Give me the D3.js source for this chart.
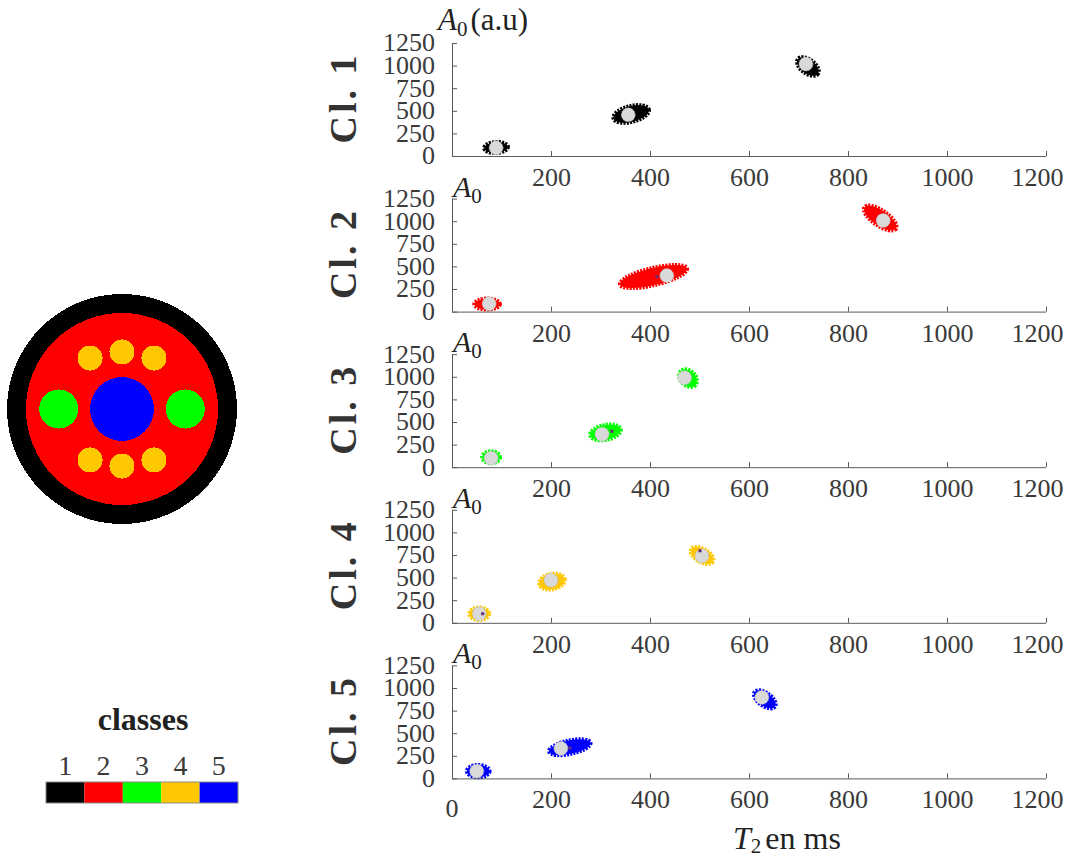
<!DOCTYPE html>
<html><head><meta charset="utf-8">
<script src="https://cdn.jsdelivr.net/npm/d3@7"></script>
<style>
body{margin:0;background:#fff}
svg{display:block}
text{font-family:"Liberation Serif","Times New Roman",serif}
</style>
</head><body>
<svg id="chart" width="1070" height="859"></svg>
<script>
// ---------------- data ----------------
const classNames   = ["1","2","3","4","5"];
const classColors  = ["#000000","#ff0000","#00ff00","#ffc800","#0000ff"];
const panelLabels  = ["Cl. 1","Cl. 2","Cl. 3","Cl. 4","Cl. 5"];
const xTicks       = [200,400,600,800,1000,1200];
const yTicks       = [0,250,500,750,1000,1250];

// cluster clouds (T2 in ms, A0 in a.u.): mean, half-extent, correlation
const blobT2     = [[89,362,719],[71,407,865],[79,310,477],[55,202,505],[53,238,632]];
const blobA0     = [[94,465,990],[83,388,1035],[110,385,985],[100,455,745],[80,345,874]];
const blobT2Half = [[28,40,26],[30,72,37],[22,35,22],[24,30,27],[27,46,26]];
const blobA0Half = [[83,120,125],[83,150,160],[88,110,120],[90,110,116],[90,110,122]];
const blobCorr   = [[0.1,0.4,-0.5],[0,0.65,-0.7],[0,0.3,-0.3],[0,0.2,-0.5],[0,0.5,-0.55]];

// estimated centroids (grey discs)
const centroidT2 = [[89,356,715],[75,434,871],[79,303,470],[55,200,505],[50,220,626]];
const centroidA0 = [[90,455,1018],[88,398,1007],[100,365,990],[100,470,740],[80,332,896]];

// true-value markers (small purple marks)
const markerT2 = [[],[414],[323],[62,501],[238]];
const markerA0 = [[],[387],[398],[100,797],[338]];

// phantom (class map): discs drawn in order, unit = outer radius
const phantomClass = [1,2,5,3,3,4,4,4,4,4,4];
const phantomX     = [0,0,0,-0.55,0.55,-0.278,0,0.278,-0.278,0,0.278];
const phantomY     = [0,0,0,0,0,-0.443,-0.496,-0.443,0.443,0.496,0.443];
const phantomR     = [1,0.835,0.278,0.17,0.17,0.109,0.109,0.109,0.109,0.109,0.109];

// ---------------- drawing ----------------
const svg = d3.select("#chart");
const axisColor = "#5a5a5a", textColor = "#3a3a3a";

const x = d3.scaleLinear().domain([0,1200]).range([452,1046]);
const panelTop0 = 43, panelStep = 155.6, panelH = 113;

classNames.forEach((cn, i) => {
  const top = panelTop0 + i*panelStep, bottom = top + panelH;
  const y = d3.scaleLinear().domain([0,1250]).range([bottom, top]);
  const g = svg.append("g");

  // clouds
  const blobs = blobT2[i].map((t,k)=>({t, a:blobA0[i][k], ht:blobT2Half[i][k], ha:blobA0Half[i][k], r:blobCorr[i][k]}));
  blobs.forEach(b => {
    const cx = x(b.t), cy = y(b.a);
    const sx = Math.max(Math.abs(x(b.ht)-x(0)) - 2, 3);
    const sy = Math.max(Math.abs(y(b.ha)-y(0)) - 2, 3);
    const A = sx*sx, C = sy*sy, B = -b.r*sx*sy;
    const m = (A+C)/2, d = Math.sqrt(((A-C)/2)**2 + B*B);
    const l1 = m + d, l2 = Math.max(m - d, 1);
    const theta = 0.5*Math.atan2(2*B, A-C)*180/Math.PI;
    const tr = `translate(${cx},${cy}) rotate(${theta})`;
    g.append("ellipse").attr("transform", tr)
      .attr("rx", Math.sqrt(l1)).attr("ry", Math.sqrt(l2))
      .attr("fill", classColors[i]).attr("stroke", classColors[i])
      .attr("stroke-width", 4).attr("stroke-dasharray", "2 1.2");
  });

  // centroid discs
  centroidT2[i].forEach((t,k) => {
    g.append("circle").attr("cx", x(t)).attr("cy", y(centroidA0[i][k])).attr("r", 7)
      .attr("fill", "#d9d9d9").attr("stroke", "#b0b0b0")
      .attr("stroke-width", 1).attr("stroke-dasharray", "1 1.5");
  });
  markerT2[i].forEach((t,k) => {
    g.append("rect").attr("x", x(t)-1.5).attr("y", y(markerA0[i][k])-1.5)
      .attr("width", 3).attr("height", 3).attr("fill", "#6a2c6a");
  });

  // axes
  const xa = g.append("g").attr("transform", `translate(0,${bottom})`)
    .call(d3.axisBottom(x).tickValues(xTicks).tickFormat(d3.format("d"))
      .tickSizeInner(-5).tickSizeOuter(0).tickPadding(0));
  xa.select(".domain").attr("d", `M${x(0)},0.5H${x(1200)}`).attr("stroke", axisColor);
  xa.selectAll(".tick line").attr("stroke", axisColor);
  xa.selectAll(".tick text").attr("y", 30).attr("dy", null)
    .attr("font-size", 26).attr("fill", textColor).attr("font-family", '"Liberation Serif",serif');
  // last label is pulled inside the figure
  xa.selectAll(".tick text").filter(d => d === 1200)
    .attr("text-anchor", "end").attr("x", 1063 - x(1200));

  const ya = g.append("g").attr("transform", `translate(${x(0)},0)`)
    .call(d3.axisLeft(y).tickValues(yTicks).tickFormat(d3.format("d"))
      .tickSizeInner(-5).tickSizeOuter(0));
  ya.select(".domain").attr("d", `M0.5,${top}V${bottom}`).attr("stroke", axisColor);
  ya.selectAll(".tick line").attr("stroke", axisColor);
  ya.selectAll(".tick text").attr("x", -17).attr("dy", "0.3em")
    .attr("font-size", 26).attr("fill", textColor).attr("font-family", '"Liberation Serif",serif');

  // row label
  svg.append("text").attr("transform", `translate(343,${(top+bottom)/2}) rotate(-90)`)
    .attr("text-anchor", "middle").attr("dominant-baseline", "central")
    .attr("font-size", 38).attr("font-weight", "bold").attr("fill", "#333")
    .attr("textLength", 88).attr("lengthAdjust", "spacing")
    .text(panelLabels[i]);

  // A0 label
  const lab = svg.append("text").attr("fill", "#222");
  if (i === 0) {
    lab.attr("x", 438).attr("y", 30);
    lab.append("tspan").attr("font-style", "italic").attr("font-size", 31).text("A");
    lab.append("tspan").attr("font-size", 21).attr("dy", 6).text("0");
    lab.append("tspan").attr("font-size", 31).attr("dy", -6).attr("dx", 3).text("(a.u)");
  } else {
    lab.attr("x", 453).attr("y", top - 2);
    lab.append("tspan").attr("font-style", "italic").attr("font-size", 30).text("A");
    lab.append("tspan").attr("font-size", 21).attr("dy", 6).text("0");
  }

  if (i === classNames.length - 1) {
    svg.append("text").attr("x", x(0)).attr("y", bottom + 39).attr("text-anchor", "middle")
      .attr("font-size", 26).attr("fill", textColor).text("0");
    const tt = svg.append("text").attr("x", 733).attr("y", 849).attr("fill", "#222");
    tt.append("tspan").attr("font-style", "italic").attr("font-size", 32).text("T");
    tt.append("tspan").attr("font-size", 21).attr("dy", 4).text("2");
    tt.append("tspan").attr("font-size", 32).attr("dy", -4).attr("dx", 4).text("en ms");
  }
});

// ---------------- phantom image ----------------
const pc = {x:122, y:409, r:115};
const px = d3.scaleLinear().domain([-1,1]).range([pc.x - pc.r, pc.x + pc.r]);
const py = d3.scaleLinear().domain([-1,1]).range([pc.y - pc.r, pc.y + pc.r]);
const pr = d3.scaleLinear().domain([0,1]).range([0, pc.r]);
svg.append("g").attr("shape-rendering", "crispEdges").selectAll("circle")
  .data(phantomClass.map((c,k)=>({c, x:phantomX[k], y:phantomY[k], r:phantomR[k]})))
  .join("circle")
  .attr("cx", d => px(d.x)).attr("cy", d => py(d.y)).attr("r", d => pr(d.r))
  .attr("fill", d => classColors[d.c - 1]);

// ---------------- legend ----------------
const lx = d3.scaleBand().domain(classNames).range([46, 238]).padding(0);
svg.append("text").attr("x", 143).attr("y", 730).attr("text-anchor", "middle")
  .attr("font-size", 32).attr("font-weight", "bold").attr("fill", "#222")
  .text("classes");
const lg = svg.append("g");
lg.selectAll("rect").data(classNames).join("rect")
  .attr("x", d => lx(d)).attr("y", 782).attr("width", lx.bandwidth()).attr("height", 21)
  .attr("fill", (d,k) => classColors[k]);
lg.append("rect").attr("x", 46).attr("y", 782).attr("width", 192).attr("height", 21)
  .attr("fill", "none").attr("stroke", "#8a8a8a").attr("stroke-width", 1);
lg.selectAll("text").data(classNames).join("text")
  .attr("x", d => lx(d) + lx.bandwidth()/2).attr("y", 775).attr("text-anchor", "middle")
  .attr("font-size", 28).attr("fill", textColor).text(d => d);
</script>
</body></html>
